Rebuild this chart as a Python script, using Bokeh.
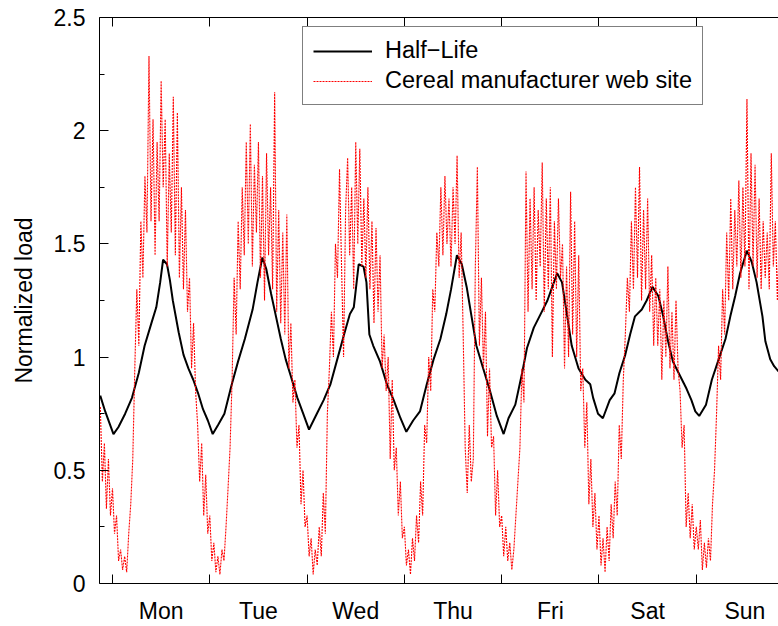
from bokeh.plotting import figure
from bokeh.models import (Range1d, FixedTicker, LinearAxis, Legend, LegendItem,
                          ColumnDataSource)
from bokeh.embed import file_html
from bokeh.resources import INLINE

# ---------------- data (x in days from Monday 00:00) ----------------
day_names = ["Mon", "Tue", "Wed", "Thu", "Fri", "Sat", "Sun"]
day_label_pos = [0.5, 1.5, 2.5, 3.5, 4.5, 5.5, 6.5]
day_boundaries = [0, 1, 2, 3, 4, 5, 6, 7]
y_major = [0, 0.5, 1, 1.5, 2, 2.5]
y_minor = [0.25, 0.75, 1.25, 1.75, 2.25]
y_labels = ["0", "0.5", "1", "1.5", "2", "2.5"]

# Half-Life (black)
hl_day = [-0.126, -0.075, 0.01, 0.06, 0.13, 0.20, 0.27, 0.33, 0.40, 0.45, 0.49, 0.52,
          0.56, 0.59, 0.62, 0.68, 0.73, 0.78, 0.83, 0.88, 0.93, 0.98,
          1.03, 1.085, 1.15, 1.22, 1.29, 1.36, 1.44, 1.49, 1.54, 1.58, 1.63, 1.68,
          1.73, 1.78, 1.83, 1.90, 1.96,
          2.02, 2.10, 2.17, 2.24, 2.31, 2.38, 2.44, 2.48, 2.53, 2.58, 2.61, 2.64,
          2.68, 2.75, 2.82, 2.89, 2.96,
          3.02, 3.09, 3.16, 3.23, 3.30, 3.37, 3.43, 3.48, 3.54, 3.59, 3.64, 3.69,
          3.74, 3.81, 3.88, 3.95,
          4.02, 4.07, 4.14, 4.21, 4.26, 4.33, 4.40, 4.47, 4.52, 4.57, 4.62, 4.67,
          4.72, 4.79, 4.86, 4.91, 4.94, 4.99,
          5.04, 5.11, 5.16, 5.21, 5.27, 5.32, 5.37, 5.44, 5.49, 5.55, 5.61, 5.66,
          5.71, 5.76, 5.83, 5.90, 5.95, 5.99,
          6.03, 6.10, 6.16, 6.23, 6.30, 6.35, 6.40, 6.45, 6.52, 6.57, 6.62, 6.68,
          6.71, 6.76, 6.80, 6.86]
hl_load = [0.83, 0.76, 0.66, 0.69, 0.75, 0.82, 0.93, 1.05, 1.15, 1.22, 1.33, 1.43,
           1.41, 1.34, 1.25, 1.11, 1.01, 0.95, 0.90, 0.84, 0.77, 0.72,
           0.66, 0.70, 0.75, 0.87, 0.98, 1.08, 1.21, 1.33, 1.44, 1.39, 1.28, 1.18,
           1.08, 0.99, 0.92, 0.82, 0.75,
           0.68, 0.75, 0.81, 0.88, 0.99, 1.10, 1.19, 1.22, 1.41, 1.40, 1.33, 1.10,
           1.05, 0.98, 0.88, 0.81, 0.73,
           0.67, 0.72, 0.76, 0.88, 0.99, 1.08, 1.19, 1.30, 1.45, 1.41, 1.31, 1.18,
           1.05, 0.95, 0.85, 0.74,
           0.66, 0.73, 0.79, 0.93, 1.04, 1.13, 1.19, 1.25, 1.31, 1.37, 1.33, 1.19,
           1.05, 0.95, 0.90, 0.88, 0.82, 0.75,
           0.73, 0.81, 0.84, 0.93, 1.01, 1.10, 1.18, 1.21, 1.25, 1.31, 1.27, 1.18,
           1.07, 0.98, 0.92, 0.86, 0.81, 0.76,
           0.74, 0.79, 0.90, 0.99, 1.08, 1.18, 1.27, 1.37, 1.47, 1.42, 1.33, 1.18,
           1.07, 0.99, 0.96, 0.93]

# Cereal manufacturer web site (red), half-hour samples
cereal_lead = [0.78, 0.45, 0.62, 0.33, 0.55, 0.30]  # Sunday night before Monday
cereal_mon = [0.42, 0.22, 0.30, 0.10, 0.15, 0.06, 0.12, 0.05, 0.22, 0.35, 0.55, 0.95,
              1.30, 1.05, 1.60, 1.35, 1.80, 1.55, 2.33, 1.60, 2.05, 1.45, 1.95, 1.60,
              2.22, 1.75, 2.05, 1.40, 1.90, 1.55, 2.15, 1.45, 2.08, 1.35, 1.75, 1.30,
              1.65, 1.20, 1.35, 0.95, 1.15, 0.85, 0.70, 0.45, 0.62, 0.30, 0.48, 0.22]
cereal_tue = [0.30, 0.10, 0.18, 0.05, 0.12, 0.04, 0.15, 0.10, 0.25, 0.42, 0.60, 0.90,
              1.35, 1.10, 1.60, 1.30, 1.75, 1.45, 1.95, 1.50, 2.03, 1.40, 1.85, 1.55,
              1.95, 1.35, 1.80, 1.25, 1.90, 1.45, 1.75, 1.30, 2.17, 1.20, 1.65, 1.15,
              1.55, 1.10, 1.63, 0.95, 1.15, 0.80, 0.90, 0.60, 0.70, 0.35, 0.50, 0.25]
cereal_wed = [0.30, 0.12, 0.20, 0.04, 0.15, 0.08, 0.25, 0.12, 0.40, 0.22, 0.75, 0.95,
              1.20, 1.00, 1.50, 1.35, 1.83, 1.40, 1.00, 1.65, 1.88, 1.45, 1.75, 1.30,
              1.95, 1.50, 1.92, 1.40, 1.70, 1.35, 1.75, 1.30, 1.60, 1.15, 1.57, 1.20,
              1.45, 0.95, 1.10, 0.85, 1.00, 0.55, 0.90, 0.50, 0.60, 0.30, 0.45, 0.20]
cereal_thu = [0.25, 0.08, 0.15, 0.04, 0.20, 0.10, 0.30, 0.18, 0.45, 0.30, 0.70, 0.62,
              1.00, 0.85, 1.30, 1.20, 1.55, 1.40, 1.75, 1.45, 1.80, 1.50, 1.70, 1.40,
              1.75, 1.50, 1.89, 1.35, 1.55, 1.10, 0.60, 0.40, 0.70, 0.45, 0.55, 1.40,
              1.84, 1.05, 1.35, 0.95, 1.20, 0.65, 0.95, 0.60, 0.65, 0.30, 0.50, 0.25]
cereal_fri = [0.30, 0.12, 0.25, 0.10, 0.18, 0.06, 0.15, 0.30, 0.45, 0.60, 0.95, 0.80,
              1.82, 1.20, 1.70, 1.30, 1.75, 1.25, 1.65, 1.40, 1.86, 1.20, 1.70, 1.30,
              1.75, 1.00, 1.60, 1.30, 1.70, 1.35, 1.50, 0.95, 1.40, 1.00, 1.73, 1.10,
              1.60, 1.00, 1.45, 0.85, 0.95, 0.60, 0.80, 0.35, 0.55, 0.25, 0.40, 0.15]
cereal_sat = [0.30, 0.08, 0.20, 0.05, 0.25, 0.10, 0.35, 0.20, 0.45, 0.30, 0.70, 0.55,
              0.90, 1.10, 1.35, 1.20, 1.60, 1.30, 1.75, 1.35, 1.84, 1.25, 1.65, 1.30,
              1.70, 1.20, 1.45, 1.05, 1.35, 1.05, 1.30, 0.90, 1.25, 1.00, 1.40, 0.95,
              1.20, 0.90, 1.25, 0.95, 0.85, 0.60, 0.70, 0.25, 0.40, 0.20, 0.35, 0.15]
cereal_sun = [0.25, 0.15, 0.28, 0.06, 0.18, 0.07, 0.20, 0.10, 0.35, 0.50, 0.75, 1.05,
              0.90, 1.30, 1.10, 1.55, 1.25, 1.70, 1.30, 1.65, 1.40, 1.78, 1.35, 1.75,
              1.40, 2.14, 1.30, 1.90, 1.40, 1.85, 1.35, 1.70, 1.30, 1.60, 1.35, 1.55,
              1.30, 1.90, 1.40, 1.60, 1.25, 1.55]

cereal_load = (cereal_lead + cereal_mon + cereal_tue + cereal_wed + cereal_thu +
               cereal_fri + cereal_sat + cereal_sun)
cereal_day = [(k - len(cereal_lead)) / 48 for k in range(len(cereal_load))]

# ---------------- figure ----------------
FONT = "Liberation Sans"
FS = "23px"

p = figure(width=778, height=626, output_backend="svg", toolbar_location=None,
           x_range=Range1d(-0.1336, 6.845), y_range=Range1d(0, 2.5),
           min_border_left=99, min_border_right=0, min_border_top=17,
           min_border_bottom=37, x_axis_type=None, y_axis_type=None)
p.outline_line_color = None
p.background_fill_color = "white"
p.border_fill_color = "white"

# left axis
yax = LinearAxis(ticker=FixedTicker(ticks=y_major, minor_ticks=y_minor),
                 axis_label="Normalized load")
yax.major_label_overrides = {v: s for v, s in zip(y_major, y_labels)}
yax.major_tick_in = 9
yax.major_tick_out = 0
yax.minor_tick_in = 5
yax.minor_tick_out = 0
yax.major_label_standoff = 14
yax.axis_label_standoff = 14
p.add_layout(yax, "left")

# bottom axis: labels at mid-day, tick marks at day boundaries
xax = LinearAxis(ticker=FixedTicker(ticks=day_label_pos, minor_ticks=day_boundaries))
xax.major_label_overrides = {v: s for v, s in zip(day_label_pos, day_names)}
xax.major_tick_in = 0
xax.major_tick_out = 0
xax.minor_tick_in = 9
xax.minor_tick_out = 0
xax.major_label_standoff = 14
p.add_layout(xax, "below")

# top border with tick marks
tax = LinearAxis(ticker=FixedTicker(ticks=day_boundaries))
tax.major_label_text_font_size = "0px"
tax.major_label_text_alpha = 0
tax.major_label_standoff = 0
tax.major_tick_in = 9
tax.major_tick_out = 0
tax.minor_tick_line_color = None
p.add_layout(tax, "above")

for ax in (yax, xax, tax):
    ax.axis_line_color = "black"
    ax.axis_line_width = 1
    ax.major_tick_line_color = "black"
    ax.minor_tick_line_color = "black" if ax is not tax else None
    ax.major_label_text_font = FONT
    ax.major_label_text_color = "black"
    ax.axis_label_text_font = FONT
    ax.axis_label_text_font_style = "normal"
    ax.axis_label_text_color = "black"
    ax.axis_label_text_font_size = FS
for ax in (yax, xax):
    ax.major_label_text_font_size = FS

hl_src = ColumnDataSource(dict(x=hl_day, y=hl_load))
ce_src = ColumnDataSource(dict(x=cereal_day, y=cereal_load))

r_hl = p.line("x", "y", source=hl_src, line_color="black", line_width=2)
r_ce = p.line("x", "y", source=ce_src, line_color="#ff0000", line_width=1.1,
              line_dash="2 1")

legend = Legend(items=[LegendItem(label="Half\u2212Life", renderers=[r_hl]),
                       LegendItem(label="Cereal manufacturer web site", renderers=[r_ce])],
                location=(203, 478))
legend.label_text_font = FONT
legend.label_text_font_size = "23.5px"
legend.label_text_color = "black"
legend.glyph_width = 59
legend.label_standoff = 13
legend.padding = 10
legend.spacing = 3
legend.margin = 0
legend.border_line_color = "black"
legend.border_line_width = 1
legend.background_fill_color = "white"
legend.background_fill_alpha = 1
p.add_layout(legend, "center")

open("out.html", "w").write(file_html(p, INLINE))
